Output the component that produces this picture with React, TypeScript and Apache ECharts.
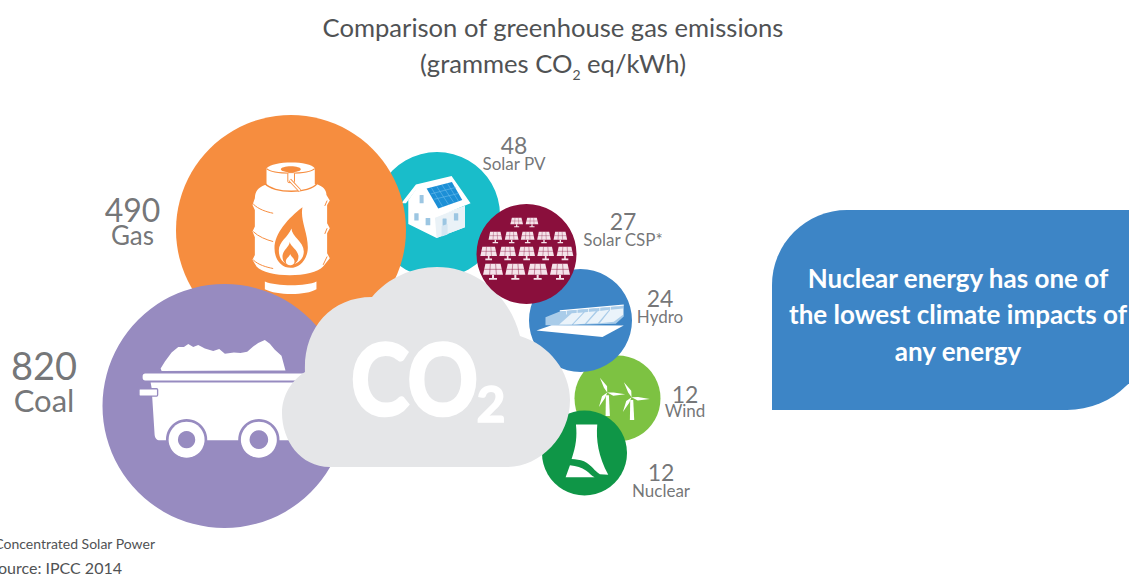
import React, { useEffect, useRef } from "react";
import * as echarts from "echarts";

// ---- data ----
const sources = ["Coal", "Gas", "Solar PV", "Solar CSP*", "Hydro", "Wind", "Nuclear"];
const emissions = [820, 490, 48, 27, 24, 12, 12];
const titleLines = ["Comparison of greenhouse gas emissions", "(grammes CO{sub|2} eq/kWh)"];
const calloutText = "Nuclear energy has one of\nthe lowest climate impacts of\nany energy";
const footnotes = ["*Concentrated Solar Power", "Source: IPCC 2014"];

// ---- layout (pixels; the picture is a hand-placed bubble cluster) ----
const bubbleX = [224.5, 291, 437, 526.5, 580.5, 617.5, 584.5];
const bubbleY = [406, 230, 215, 254, 320.5, 398.5, 453];
const bubbleR = [122, 115, 63, 50, 51.5, 43, 42.5];
const bubbleZ = [6, 4, 2, 16, 10, 8, 12];
const colors = ["#978bc0", "#f68d3f", "#19bdca", "#8a0f3c", "#3d85c6", "#7dc242", "#0f9647"];
const labelX = [44, 132.5, 514, 623, 660, 685, 661];
const labelY = [382, 222, 154, 230, 307, 402, 481];
const valueSize = [38, 32, 23, 23, 23, 23, 23];
const nameSize = [31, 26, 17, 17, 17, 17, 17];
const lineGap = [35, 26, 19, 18, 19, 17, 18];

const FONT = "Lato";
const TEXT = "#505254";
const WHITE = "#ffffff";

let shapeId = 0;
function P(d: string, fill: string, z: number, stroke?: string, lineWidth?: number) {
  const name = "shape" + shapeId++;
  echarts.graphic.registerShape(name, echarts.graphic.extendPath(d, {}) as any);
  return {
    type: name,
    z,
    silent: true,
    style: stroke ? { fill, stroke, lineWidth: lineWidth || 1 } : { fill },
  };
}
const C = (cx: number, cy: number, r: number, fill: string, z: number) => ({
  type: "circle",
  z,
  silent: true,
  shape: { cx, cy, r },
  style: { fill },
});
const E = (cx: number, cy: number, rx: number, ry: number, fill: string, z: number) => ({
  type: "ellipse",
  z,
  silent: true,
  shape: { cx, cy, rx, ry },
  style: { fill },
});
const R = (x: number, y: number, width: number, height: number, r: number, fill: string, z: number, stroke?: string, lw?: number) => ({
  type: "rect",
  z,
  silent: true,
  shape: { x, y, width, height, r },
  style: stroke ? { fill, stroke, lineWidth: lw } : { fill },
});
const zoomed = (x: number, y: number, children: any[]) => ({
  type: "group",
  x,
  y,
  scaleX: 1 / 3,
  scaleY: 1 / 3,
  children,
});

function buildIcons() {
  const orange = colors[1];
  const purple = colors[0];
  const maroon = colors[3];
  const gas = zoomed(110, 130, [
    P("M465 165 C445 172 435 185 435 205 L428 225 L435 240 L435 290 L428 305 L435 322 L435 375 L428 390 L440 410 C470 445 610 445 640 410 L660 385 L652 370 L652 310 L660 295 L652 280 L652 225 L660 212 L650 195 C650 180 640 170 622 163 Z", WHITE, 5),
    P("M470 115 L470 165 C490 190 600 190 615 165 L615 115 C600 92 490 92 470 115 Z", WHITE, 5),
    P("M470 116 C490 134 595 134 615 116", "none", 5, orange, 4),
    P("M465 160 C490 192 600 192 622 160", "none", 5, orange, 4),
    E(543, 118, 30, 9, orange, 5),
    R(534, 128, 20, 30, 3, WHITE, 5, orange, 3),
    P("M540 150 L570 182", "none", 5, orange, 10),
    P("M540 150 L570 182", "none", 5, WHITE, 5),
    P("M430 222 C445 238 470 246 490 250", "none", 5, orange, 3),
    P("M430 305 C445 320 470 330 490 335", "none", 5, orange, 3),
    P("M430 390 C445 405 470 412 490 416", "none", 5, orange, 3),
    P("M652 212 L645 228", "none", 5, orange, 3),
    P("M652 295 L645 312", "none", 5, orange, 3),
    P("M652 380 L640 405", "none", 5, orange, 3),
    P("M465 455 C500 470 590 470 620 455 L620 478 C590 497 500 497 465 478 Z", WHITE, 5),
    P("M578 232 C570 270 595 310 594 355 C592 395 565 414 543 414 C515 414 494 390 494 355 C494 310 535 265 578 232 Z", orange, 5),
    P("M545 296 C545 320 582 335 582 365 C582 390 560 404 543 404 C522 404 507 388 507 362 C507 335 535 322 545 296 Z", WHITE, 5),
    P("M540 336 C542 350 566 360 566 380 C566 398 552 406 542 406 C530 406 518 398 518 380 C518 360 538 352 540 336 Z", orange, 5),
    P("M541 372 C543 380 554 385 554 394 C554 403 548 406 541 406 C534 406 528 403 528 394 C528 385 540 380 541 372 Z", WHITE, 5),
  ]);
  const coal = zoomed(110, 130, [
    P("M152 716 L165 695 L185 668 L205 652 L222 652 L235 643 L250 652 L265 646 L285 656 L310 664 L328 658 L345 672 L372 668 L392 670 L412 666 L430 650 L445 640 L465 631 L480 642 L495 660 L515 678 L527 722 L155 724 Z", WHITE, 7),
    R(98, 731, 500, 21, 8, WHITE, 7),
    P("M122 758 L600 758 L600 932 L150 932 C140 932 135 925 134 915 L125 775 Z", WHITE, 7),
    R(87, 777, 56, 22, 3, WHITE, 7, purple, 4),
    C(230, 930, 62, purple, 7),
    C(230, 930, 54, WHITE, 7),
    C(230, 930, 26, purple, 7),
    C(447, 930, 62, purple, 7),
    C(447, 930, 54, WHITE, 7),
    C(447, 930, 28, purple, 7),
  ]);
  const house = zoomed(370, 120, [
    P("M115 240 L140 205 L195 290 L285 258 L285 322 L200 354 L115 312 Z", WHITE, 3),
    P("M195 292 L285 258 L285 322 L200 354 Z", "#eaf2f7", 3),
    P("M94 250 L138 194 L245 168 L302 250 L190 296 L138 210 L108 250 Z", WHITE, 3),
    P("M170 206 L246 186 L277 240 L205 266 Z", "#1c8fd6", 3),
    P("M183 222 L259 202 M193 238 L268 220 M184 203 L218 260 M200 199 L236 254 M216 195 L252 248 M232 190 L266 244", "none", 3, "#7cc4ee", 1.5),
    R(149, 225, 12, 25, 1, "#9cc6e2", 3),
    R(133, 280, 13, 22, 1, "#9cc6e2", 3),
    R(167, 294, 14, 22, 1, "#9cc6e2", 3),
    R(218, 296, 12, 22, 1, "#9cc6e2", 3),
    R(252, 280, 13, 22, 1, "#9cc6e2", 3),
    P("M215 318 L233 312 L233 344 L215 350 Z", "#d5e6f2", 3),
  ]);
  const panelBody = "M-19 -12 L19 -12 L25 12 L-25 12 Z";
  const panelLines = "M-22 0 L22 0 M-6.5 -12 L-8.5 12 M6.5 -12 L8.5 12";
  const panelStem = "M-2.5 12 L2.5 12 L2.5 19 L10 19 L10 23 L-10 23 L-10 19 L-2.5 19 Z";
  const panelRows = [
    { cy: 303, xs: [440, 486], sx: 0.76, sy: 0.83 },
    { cy: 347, xs: [376, 425, 473, 522, 571], sx: 0.82, sy: 1 },
    { cy: 394, xs: [356, 413, 470, 527, 585], sx: 1, sy: 1.15 },
    { cy: 448, xs: [369, 436, 503, 570], sx: 1.2, sy: 1.37 },
  ];
  const panelKids: any[] = [];
  panelRows.forEach((row) =>
    row.xs.forEach((x) => {
      panelKids.push({
        type: "group",
        x,
        y: row.cy,
        scaleX: row.sx,
        scaleY: row.sy,
        children: [
          P(panelBody, "#f5e3ea", 17),
          P(panelLines, "none", 17, maroon, 1.1),
          P(panelStem, "#f5e3ea", 17),
        ],
      });
    })
  );
  const csp = zoomed(370, 120, panelKids);
  const hydro = zoomed(370, 120, [
    P("M527 592 L570 575 L762 557 L762 590 L738 612 L556 616 L527 616 Z", "#a9cce9", 11),
    P("M568 614 L606 580 L640 578 L606 614 Z M610 614 L645 577 L678 574 L645 612 Z M650 612 L684 574 L718 570 L684 610 Z M690 610 L722 570 L760 566 L760 585 L732 606 Z", "#eaf3fa", 11),
    P("M570 573 L762 556", "none", 11, WHITE, 4),
    P("M590 572 L590 584 M622 569 L622 581 M656 566 L656 578 M690 563 L690 575 M722 560 L722 572", "none", 11, WHITE, 2),
    P("M500 632 L545 616 L762 617 L698 652 Z", WHITE, 11),
  ]);
  const blade = (hx: number, hy: number, tx: number, ty: number) => {
    const dx = tx - hx;
    const dy = ty - hy;
    const len = Math.hypot(dx, dy);
    const nx = -dy / len;
    const ny = dx / len;
    const w = 8;
    return `M${hx} ${hy} L${hx + dx * 0.35 + nx * w} ${hy + dy * 0.35 + ny * w} L${tx} ${ty} L${hx + dx * 0.35 - nx * w * 0.3} ${hy + dy * 0.35 - ny * w * 0.3} Z `;
  };
  const wind = zoomed(520, 340, [
    P(blade(262, 158, 240, 113) + blade(262, 158, 316, 163) + blade(262, 158, 237, 201), WHITE, 9),
    P("M258 166 L267 166 L270 228 L257 228 Z", WHITE, 9),
    P(blade(335, 172, 312, 127) + blade(335, 172, 390, 177) + blade(335, 172, 309, 216), WHITE, 9),
    P("M331 180 L340 180 L343 240 L330 240 Z", WHITE, 9),
  ]);
  const nuclear = zoomed(520, 340, [
    P("M168 254 L232 254 C228 300 235 350 265 405 L240 403 C225 395 215 375 192 364 C180 359 168 358 155 357 C168 320 172 290 168 254 Z", WHITE, 13),
    P("M150 376 C170 378 185 382 198 392 C208 399 215 408 224 412 L137 412 Z", WHITE, 13),
  ]);
  const cloud = P(
    "M330 467 C300 467 282 440 282 413 C282 395 292 380 305 372 C303 330 330 297 372 297 C388 278 412 267 437 267 C478 267 510 297 520 336 C550 345 570 372 570 400 C570 437 540 467 507 467 Z",
    "#e5e6e8",
    14
  );
  const co2 = [
    {
      type: "text",
      z: 15,
      silent: true,
      x: 414.5,
      y: 378,
      scaleX: 0.9,
      style: { text: "CO", fill: WHITE, stroke: WHITE, lineWidth: 3.5, font: `bold 97px ${FONT}`, textAlign: "center", textVerticalAlign: "middle" },
    },
    {
      type: "text",
      z: 15,
      silent: true,
      x: 491,
      y: 403,
      style: { text: "2", fill: WHITE, stroke: WHITE, lineWidth: 1.5, font: `bold 50px ${FONT}`, textAlign: "center", textVerticalAlign: "middle" },
    },
  ];
  return [gas, coal, house, csp, hydro, wind, nuclear, cloud, ...co2];
}

export default function App() {
  const ref = useRef<HTMLDivElement>(null);
  useEffect(() => {
    document.body.style.margin = "0";
    document.body.style.overflow = "hidden";
    const chart = echarts.init(ref.current!, undefined, { renderer: "svg" });
    const bubbleSeries = sources.map((name, i) => ({
      type: "scatter",
      name,
      z: bubbleZ[i],
      silent: true,
      symbol: "circle",
      symbolSize: bubbleR[i] * 2,
      itemStyle: { color: colors[i], opacity: 1 },
      data: [[bubbleX[i], bubbleY[i], emissions[i]]],
    }));
    const labelSeries = sources.map((name, i) => ({
      type: "scatter",
      name: name + " label",
      z: 30,
      silent: true,
      symbolSize: 1,
      itemStyle: { color: "transparent" },
      data: [[labelX[i], labelY[i], emissions[i]]],
      label: {
        show: true,
        position: "inside",
        align: "center",
        verticalAlign: "middle",
        formatter: `{v|${emissions[i]}}\n{n|${name}}`,
        rich: {
          v: { fontFamily: FONT, fontSize: valueSize[i], color: TEXT, lineHeight: lineGap[i], align: "center" },
          n: { fontFamily: FONT, fontSize: nameSize[i], color: TEXT, lineHeight: lineGap[i], align: "center" },
        },
      },
    }));
    chart.setOption({
      animation: false,
      backgroundColor: "#ffffff",
      title: {
        text: titleLines.join("\n"),
        left: 548,
        top: 4,
        textAlign: "center",
        textStyle: {
          fontFamily: FONT,
          fontWeight: "normal",
          fontSize: 25.6,
          color: TEXT,
          lineHeight: 36,
          rich: {
            sub: { fontFamily: FONT, fontSize: 14, color: TEXT, verticalAlign: "bottom", lineHeight: 28, padding: [12, 0, 0, 0] },
          },
        },
      },
      grid: { left: 0, right: 0, top: 0, bottom: 0 },
      xAxis: { type: "value", min: 0, max: 1129, show: false },
      yAxis: { type: "value", min: 0, max: 576, inverse: true, show: false },
      series: [...bubbleSeries, ...labelSeries],
      graphic: {
        elements: [
          ...buildIcons(),
          {
            type: "rect",
            z: 1,
            silent: true,
            shape: { x: 772, y: 210, width: 380, height: 200, r: [75, 0, 85, 0] },
            style: { fill: "#3d85c6" },
          },
          {
            type: "text",
            z: 2,
            silent: true,
            x: 958,
            y: 314,
            style: {
              text: calloutText,
              fill: WHITE,
              font: `bold 26px ${FONT}`,
              lineHeight: 36.5,
              textAlign: "center",
              textVerticalAlign: "middle",
            },
          },
          {
            type: "text",
            z: 2,
            silent: true,
            x: 155,
            y: 543,
            style: { text: footnotes[0], fill: TEXT, font: `14px ${FONT}`, textAlign: "right", textVerticalAlign: "middle" },
          },
          {
            type: "text",
            z: 2,
            silent: true,
            x: 122,
            y: 567,
            style: { text: footnotes[1], fill: TEXT, font: `16px ${FONT}`, textAlign: "right", textVerticalAlign: "middle" },
          },
        ],
      },
    });
    return () => chart.dispose();
  }, []);
  return <div ref={ref} style={{ width: 1129, height: 576 }} />;
}
